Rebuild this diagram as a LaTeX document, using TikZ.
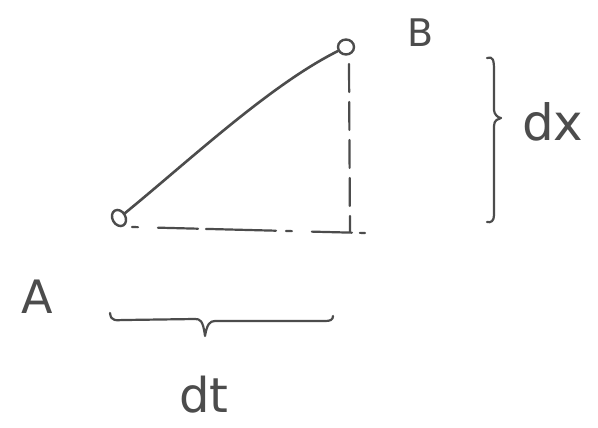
\documentclass[tikz,border=0pt]{standalone}
\usepackage{fontspec}
\setmainfont{DejaVu Sans}
\definecolor{pencil}{HTML}{4C4C4C}
\tikzset{
  ink/.style={draw=pencil, line width=2.6pt, line cap=round, line join=round},
  dashink/.style={draw=pencil, line width=2.2pt, line cap=round, dash pattern=on 28pt off 10pt},
  pt/.style={ellipse, draw=pencil, line width=2.4pt, inner sep=0pt},
  lbl/.style={text=pencil, inner sep=0pt},
}
\usetikzlibrary{shapes.geometric}
\begin{document}
\begin{tikzpicture}[x=1pt,y=-1pt]
\useasboundingbox[fill=white] (0,0) rectangle (598,428);
% points
\node[pt, minimum width=13pt, minimum height=17pt, rotate=30] (A) at (119,218) {};
\node[pt, minimum width=16pt, minimum height=15pt] (B) at (346,47) {};
% curve
\draw[ink] (A) .. controls (190,160) and (270,85) .. (B);
% dashed legs
\coordinate (C) at (350,232);
\coordinate (Bd) at (349,64);
\coordinate (Ad) at (132,227);
\coordinate (Ce) at (365,233);
\draw[dashink] (Bd) -- (C);
\draw[dashink, dash pattern=on 6pt off 20pt on 40pt off 8pt on 70pt off 10pt] (Ad) -- (Ce);
% right brace
\coordinate (rb1) at (487,58);
\coordinate (rb2) at (487,222);
\draw[ink, line width=2.2pt] (rb1) .. controls (493,56) and (494,60) .. (494,70)
  -- (494,110) .. controls (494,114) and (498,118) .. (501,118)
  .. controls (498,119) and (494,120) .. (494,126)
  -- (494,215) .. controls (494,221) and (491,223) .. (rb2);
% bottom brace
\coordinate (bb1) at (110,313);
\coordinate (bb2) at (333,316);
\draw[ink, line width=2.2pt] (bb1) .. controls (111,322) and (116,320) .. (125,320)
  -- (195,319) .. controls (200,319) and (203,320) .. (205,336)
  .. controls (207,324) and (210,321) .. (215,321)
  -- (325,321) .. controls (330,321) and (333,320) .. (bb2);
% labels
\node[lbl, font=\fontsize{46}{46}\selectfont] (lA) at (37,297) {A};
\node[lbl, font=\fontsize{38}{38}\selectfont] (lB) at (421,33) {B};
\node[lbl, font=\fontsize{50}{50}\selectfont, anchor=base west] (ldx) at (522,141) {dx};
\node[lbl, font=\fontsize{48}{48}\selectfont, anchor=base] (ldt) at (204,412) {dt};
\end{tikzpicture}
\end{document}
